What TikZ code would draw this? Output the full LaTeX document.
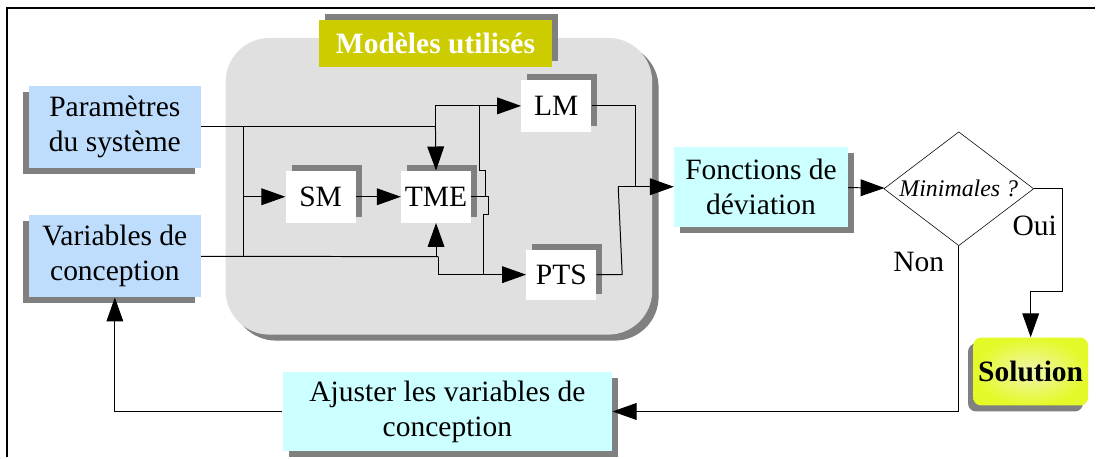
\documentclass[tikz,border=0pt]{standalone}
\usepackage{fontspec}
\setmainfont{Liberation Serif}
\usetikzlibrary{positioning,arrows.meta,shapes.geometric,shadows}

\definecolor{skyblue}{RGB}{190,220,252}
\definecolor{paleCyan}{RGB}{204,255,255}
\definecolor{olive}{RGB}{204,204,0}
\definecolor{panelgray}{RGB}{224,224,224}
\definecolor{shadowgray}{RGB}{128,128,128}
\definecolor{solyellow}{RGB}{228,250,40}
\definecolor{solpale}{RGB}{240,245,175}

\begin{document}
\begin{tikzpicture}[x=0.025cm, y=-0.025cm,
  font=\fontsize{21}{25}\selectfont,
  shleft/.style={drop shadow={shadow xshift=-1.5mm, shadow yshift=-1.5mm, fill=shadowgray, opacity=1}},
  shright/.style={drop shadow={shadow xshift=1.5mm, shadow yshift=-1.5mm, fill=shadowgray, opacity=1}},
  shtop/.style={drop shadow={shadow xshift=1.5mm, shadow yshift=1.5mm, fill=shadowgray, opacity=1}},
  inbox/.style={fill=skyblue, align=center, inner sep=0pt, minimum width=43mm,
                minimum height=20.5mm, shleft},
  calcbox/.style={fill=paleCyan, align=center, inner sep=0pt, minimum height=20mm, shright},
  model/.style={fill=white, inner sep=0pt, minimum width=17.5mm, minimum height=13mm, shtop},
  panel/.style={fill=panelgray, rounded corners=11mm, minimum width=106.75mm,
                minimum height=74.25mm, drop shadow={shadow xshift=1.6mm, shadow yshift=-1.5mm,
                fill=shadowgray, opacity=1}},
  test/.style={draw, shape=diamond, aspect=1.3, inner sep=0pt, minimum width=37.5mm,
               minimum height=28.5mm, font=\fontsize{17}{20}\selectfont\itshape},
  endbox/.style={inner color=solpale, outer color=solyellow, rounded corners=2mm,
                 minimum width=28.75mm, minimum height=17mm,
                 drop shadow={shadow xshift=-1.3mm, shadow yshift=-1.5mm, fill=shadowgray, opacity=1}},
  line/.style={line width=0.7pt},
  arr/.style={line width=0.7pt, -{Triangle[length=6mm, width=4.2mm]}}]

% ---- frame ----
\draw[line width=2pt] (7,458) -- (7,8) -- (1096,8);

% ---- models panel ----
\node[panel] (models) at (439.5,186.5) {};
\node[fill=olive, text=white, minimum width=58.5mm, minimum height=11.75mm, shtop]
  (title) at (436,43.5) {\textbf{Modèles utilisés}};

% ---- inputs ----
\node[inbox] (param) at (115,127) {Paramètres\\du système};
\node[inbox, below=11.75mm of param] (vars) {Variables de\\conception};

% ---- models ----
\node[model] (SM) at (321,197) {SM};
\node[model, right=11.25mm of SM] (TME) {TME};
\node[model] (LM) at (557,106) {LM};
\node[model, minimum height=12.5mm] (PTS) at (562,275) {PTS};

% ---- evaluation ----
\node[calcbox, minimum width=43.5mm] (fonct) at (762,187) {Fonctions de\\déviation};
\node[test] (mini) at (960,189) {Minimales ?};
\node[endbox] (sol) at (1032,372) {\textbf{Solution}};
\node[calcbox, minimum width=82.5mm, minimum height=19.75mm] (adjust) at (448,412)
  {Ajuster les variables de\\conception};
\node (oui) at (1036,226) {Oui};
\node (non) at (920,262) {Non};

% ---- wiring inside the panel ----
\coordinate (bus1) at (244,127);
\coordinate (bus2) at (244,257);
\coordinate (pj) at (436,127);
\coordinate (vj) at (439,257);
\draw[line] (param.east) -- (pj);
\draw[line] (bus1) -- (bus2);
\draw[arr] (bus1 |- SM.west) -- (SM.west);
\draw[arr] (SM) -- (TME);
\draw[arr] (pj) -- (TME.north);
\draw[arr] (pj) |- (LM.west);
\draw[line] (vars.east) -- (vj);
\draw[arr] (TME.south |- vj) -- (TME.south);
\draw[arr] (vj) |- (PTS.west);
\draw[line] (480,106) -- (480,171) -- (486,171) -- (486,197);
\draw[line] (TME.east) -- (489,197) -- (489,215) -- (484,215) -- (484,275);

% ---- model outputs ----
\coordinate (merge) at (619,187);
\draw[line] (LM.east) -| (636,187) -- (merge);
\draw[line] (PTS.east) -- (623,275) -- (merge);
\draw[arr] (merge) -- (fonct.west);

% ---- decision ----
\draw[arr] (fonct) -- (mini);
\draw[arr] (mini.east) -- (1064,189) -- (1064,292) -| (sol.north);
\draw[arr] (mini.south) |- (adjust.east);
\draw[arr] (adjust.west) -| (vars.south);

\useasboundingbox (0,0) rectangle (1096,458);
\end{tikzpicture}
\end{document}
